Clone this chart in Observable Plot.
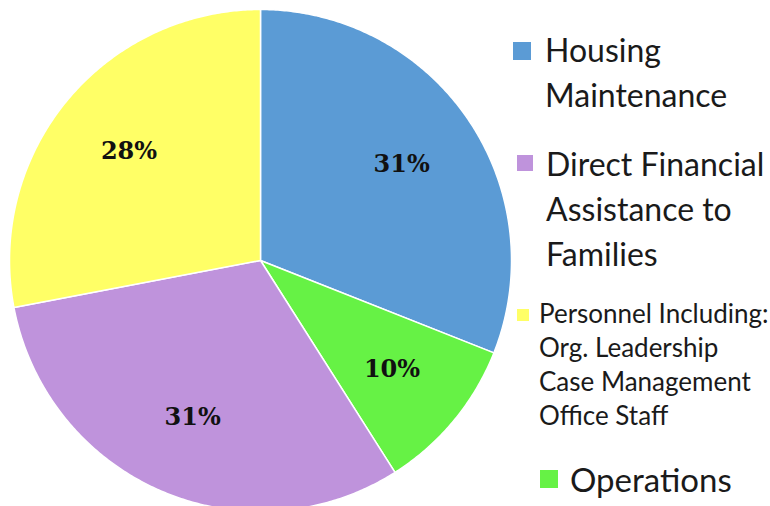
<!DOCTYPE html>
<html>
<head>
<meta charset="utf-8">
<script src="https://cdn.jsdelivr.net/npm/d3@7"></script>
<script src="https://cdn.jsdelivr.net/npm/@observablehq/plot@0.6"></script>
<style>
  html, body { margin: 0; padding: 0; background: #fff; }
  #wrap { position: relative; width: 770px; height: 506px; overflow: hidden; background: #fff; }
  #chart { position: absolute; left: 0; top: 0; }
  .item { position: absolute; font-family: Lato, "Open Sans", sans-serif; color: #1a1a1a; white-space: nowrap; }
  .sw { position: absolute; }
</style>
</head>
<body>
<div id="wrap"><div id="chart"></div></div>
<script>
// ---- data ----
const categories = [
  "Housing Maintenance",
  "Operations",
  "Direct Financial Assistance to Families",
  "Personnel Including: Org. Leadership Case Management Office Staff"
];
const values = [31, 10, 31, 28];
const valueLabels = ["31%", "10%", "31%", "28%"];
const colors = ["#5B9BD5", "#66F245", "#BF93DC", "#FFFF66"];
const legendOrder = [
  "Housing Maintenance",
  "Direct Financial Assistance to Families",
  "Personnel Including: Org. Leadership Case Management Office Staff",
  "Operations"
];
const legendLines = [
  ["Housing", "Maintenance"],
  ["Direct Financial", "Assistance to", "Families"],
  ["Personnel Including:", "Org. Leadership", "Case Management", "Office Staff"],
  ["Operations"]
];

// ---- pie geometry ----
const data = categories.map((c, i) => ({cat: c, value: values[i], label: valueLabels[i]}));
const arcs = d3.pie().sort(null).value(d => d.value)(data);
const pts = [];
arcs.forEach(a => {
  pts.push({cat: a.data.cat, x: 0, y: 0});
  const n = Math.max(2, Math.ceil((a.endAngle - a.startAngle) / (Math.PI / 360)));
  for (let k = 0; k <= n; k++) {
    const t = a.startAngle + (a.endAngle - a.startAngle) * k / n;
    pts.push({cat: a.data.cat, x: Math.sin(t), y: Math.cos(t)});
  }
});
const mids = arcs.map(a => {
  const m = (a.startAngle + a.endAngle) / 2;
  return {label: a.data.label, x: 0.68 * Math.sin(m), y: 0.68 * Math.cos(m)};
});

// scale such that radius = 251px, center at (260,260)
const W = 520, H = 506, R = 251, CX = 260, CY = 260;
const chart = Plot.plot({
  width: W, height: H,
  margin: 0,
  x: {domain: [-CX / R, (W - CX) / R], axis: null},
  y: {domain: [-(H - CY) / R, CY / R], axis: null},
  color: {domain: categories, range: colors},
  marks: [
    Plot.line(pts, {x: "x", y: "y", z: "cat", fill: "cat", stroke: "white", strokeWidth: 1.5, curve: "linear-closed"}),
    Plot.text(mids, {x: "x", y: "y", text: "label", fontSize: 24, fontWeight: "bold", fontFamily: "DejaVu Serif, serif", fill: "#111"})
  ]
});
document.getElementById("chart").appendChild(chart);

// ---- legend (HTML) ----
const layout = [
  {sx: 513, sy: 42, ss: 18, tx: 545, ty: 27, fs: 32, lh: 45},
  {sx: 517, sy: 155, ss: 16, tx: 546, ty: 141, fs: 32, lh: 45},
  {sx: 517, sy: 309, ss: 12, tx: 539, ty: 296, fs: 26, lh: 34},
  {sx: 540, sy: 470, ss: 18, tx: 570, ty: 457, fs: 33, lh: 45}
];
const wrap = document.getElementById("wrap");
legendOrder.forEach((cat, i) => {
  const L = layout[i];
  const sw = document.createElement("div");
  sw.className = "sw";
  sw.style.cssText = `left:${L.sx}px;top:${L.sy}px;width:${L.ss}px;height:${L.ss}px;background:${colors[categories.indexOf(cat)]}`;
  wrap.appendChild(sw);
  const t = document.createElement("div");
  t.className = "item";
  t.style.cssText = `left:${L.tx}px;top:${L.ty}px;font-size:${L.fs}px;line-height:${L.lh}px`;
  t.innerHTML = legendLines[i].join("<br>");
  wrap.appendChild(t);
});
</script>
</body>
</html>
